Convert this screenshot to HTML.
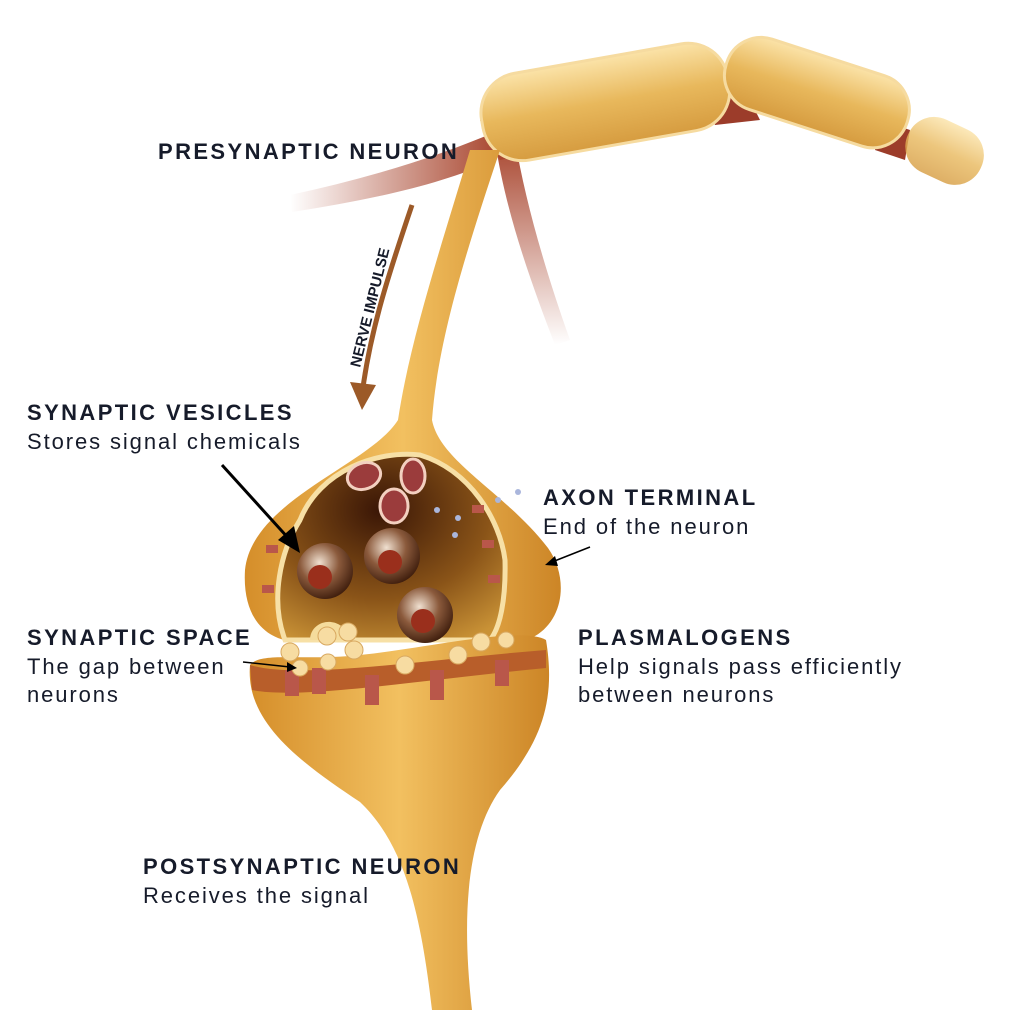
<!DOCTYPE html>
<html><head><meta charset="utf-8"><style>
html,body{margin:0;padding:0;background:#fff}
.w{position:relative;width:1024px;height:1024px;overflow:hidden;font-family:"Liberation Sans",sans-serif;color:#161b2a}
.t{position:absolute;font-weight:bold;font-size:22px;letter-spacing:2.4px;white-space:nowrap}
.s{position:absolute;font-size:22px;letter-spacing:1.9px;white-space:nowrap;line-height:28px}
</style></head><body><div class="w">
<svg width="1024" height="1024" style="position:absolute;left:0;top:0">
<defs>
<linearGradient id="gold" x1="0" y1="0" x2="1" y2="0"><stop offset="0" stop-color="#d58e2a"/><stop offset="0.5" stop-color="#f2c060"/><stop offset="1" stop-color="#cc8526"/></linearGradient>
<radialGradient id="cav" cx="0.45" cy="0.3" r="0.8"><stop offset="0" stop-color="#3a1606"/><stop offset="0.6" stop-color="#8a5418"/><stop offset="1" stop-color="#c99236"/></radialGradient>
<radialGradient id="ves" cx="0.4" cy="0.35" r="0.7"><stop offset="0" stop-color="#f0e0d0"/><stop offset="0.5" stop-color="#8b5a3c"/><stop offset="1" stop-color="#3a1a0a"/></radialGradient>
<linearGradient id="my" x1="0" y1="0" x2="0" y2="1"><stop offset="0" stop-color="#fbe3a8"/><stop offset="0.5" stop-color="#e8b85c"/><stop offset="1" stop-color="#d69c40"/></linearGradient>
<linearGradient id="fadeL" x1="1" y1="0" x2="0" y2="0"><stop offset="0" stop-color="#a8452e"/><stop offset="1" stop-color="#a8452e" stop-opacity="0"/></linearGradient>
<linearGradient id="fadeD" x1="0" y1="0" x2="0" y2="1"><stop offset="0" stop-color="#a8452e"/><stop offset="1" stop-color="#a8452e" stop-opacity="0"/></linearGradient>
</defs>
<path d="M500 130 C430 160 360 180 290 195 L292 212 C370 200 440 185 495 160 Z" fill="url(#fadeL)"/>
<path d="M495 140 C505 210 530 280 555 345 L570 340 C545 270 525 200 515 140 Z" fill="url(#fadeD)"/>
<path d="M480 120 L530 110 L545 150 L500 160 Z" fill="#a8452e"/>
<path d="M700 90 L740 80 L760 120 L715 125 Z" fill="#9c3c2a"/>
<path d="M880 120 L910 130 L905 160 L875 150 Z" fill="#9c3c2a"/>
<g transform="rotate(-10 605 100)"><rect x="480" y="58" width="250" height="88" rx="40" fill="url(#my)" stroke="#f6dba0" stroke-width="3"/></g>
<g transform="rotate(18 815 92)"><rect x="722" y="55" width="190" height="74" rx="36" fill="url(#my)" stroke="#f6dba0" stroke-width="3"/></g>
<g transform="rotate(25 945 150)"><rect x="905" y="122" width="80" height="58" rx="28" fill="url(#my)" opacity="0.8"/></g>
<path d="M470 150 C440 250 410 340 398 420 C370 465 252 500 245 570 C242 620 268 642 300 642 L520 642 C562 632 572 582 548 548 C505 492 440 462 432 420 C438 340 465 255 500 150 Z" fill="url(#gold)"/>
<path d="M300 520 C320 470 378 450 420 455 C470 470 500 520 505 560 C506 600 500 628 490 640 L285 640 C270 600 280 552 300 520 Z" fill="url(#cav)" stroke="#f7e0a6" stroke-width="5"/>
<path d="M310 640 C310 620 340 612 352 640" fill="#f5dc9c"/>
<g stroke="#f3d0c0" stroke-width="3" fill="#9b3c3c">
<ellipse cx="364" cy="476" rx="17" ry="13" transform="rotate(-20 364 476)"/>
<ellipse cx="413" cy="476" rx="12" ry="17"/>
<ellipse cx="394" cy="506" rx="14" ry="17"/>
</g>
<circle cx="325" cy="571" r="28" fill="url(#ves)"/><circle cx="320" cy="577" r="12" fill="#9a2f1c"/>
<circle cx="392" cy="556" r="28" fill="url(#ves)"/><circle cx="390" cy="562" r="12" fill="#9a2f1c"/>
<circle cx="425" cy="615" r="28" fill="url(#ves)"/><circle cx="423" cy="621" r="12" fill="#9a2f1c"/>
<g fill="#aab6dc"><circle cx="518" cy="492" r="3"/><circle cx="498" cy="500" r="3"/><circle cx="437" cy="510" r="3"/><circle cx="458" cy="518" r="3"/><circle cx="455" cy="535" r="3"/></g>
<g fill="#b9574a"><rect x="472" y="505" width="12" height="8"/><rect x="482" y="540" width="12" height="8"/><rect x="488" y="575" width="12" height="8"/><rect x="266" y="545" width="12" height="8"/><rect x="262" y="585" width="12" height="8"/></g>
<path d="M250 665 C245 722 300 762 360 802 C402 842 420 905 432 1010 L472 1010 C460 905 470 832 500 790 C542 742 556 700 546 640 C520 625 420 650 350 656 C300 660 260 652 250 665 Z" fill="url(#gold)"/>
<path d="M250 665 C300 680 420 660 546 650 L546 668 C420 680 300 700 252 690 Z" fill="#b85e2a"/>
<g fill="#b9574a"><rect x="285" y="670" width="14" height="26"/><rect x="312" y="668" width="14" height="26"/><rect x="365" y="675" width="14" height="30"/><rect x="430" y="670" width="14" height="30"/><rect x="495" y="660" width="14" height="26"/></g>
<g fill="#f7dca2" stroke="#d8a860"><circle cx="327" cy="636" r="9"/><circle cx="348" cy="632" r="9"/><circle cx="290" cy="652" r="9"/><circle cx="354" cy="650" r="9"/><circle cx="300" cy="668" r="8"/><circle cx="328" cy="662" r="8"/><circle cx="405" cy="665" r="9"/><circle cx="458" cy="655" r="9"/><circle cx="481" cy="642" r="9"/><circle cx="506" cy="640" r="8"/></g>
<path d="M412 205 C390 270 370 330 362 395" fill="none" stroke="#9c5a28" stroke-width="5"/>
<path d="M350 382 L362 410 L376 385 Z" fill="#9c5a28"/>
<text x="0" y="0" transform="translate(360 368) rotate(-76)" font-family="Liberation Sans" font-weight="bold" font-size="15" fill="#161b2a">NERVE IMPULSE</text>
<line x1="222" y1="465" x2="290" y2="540" stroke="#000" stroke-width="3"/>
<path d="M300 553 L278 540 L294 526 Z" fill="#000"/>
<line x1="590" y1="547" x2="552" y2="562" stroke="#000" stroke-width="1.5"/>
<path d="M545 565 L555 556 L558 566 Z" fill="#000"/>
<line x1="243" y1="662" x2="290" y2="667" stroke="#000" stroke-width="1.5"/>
<path d="M297 668 L287 662 L287 672 Z" fill="#000"/>
</svg>
<div class="t" style="left:158px;top:139px">PRESYNAPTIC NEURON</div>
<div class="t" style="left:27px;top:400px">SYNAPTIC VESICLES</div>
<div class="s" style="left:27px;top:428px">Stores signal chemicals</div>
<div class="t" style="left:543px;top:485px">AXON TERMINAL</div>
<div class="s" style="left:543px;top:513px">End of the neuron</div>
<div class="t" style="left:27px;top:625px">SYNAPTIC SPACE</div>
<div class="s" style="left:27px;top:653px">The gap between<br>neurons</div>
<div class="t" style="left:578px;top:625px">PLASMALOGENS</div>
<div class="s" style="left:578px;top:653px">Help signals pass efficiently<br>between neurons</div>
<div class="t" style="left:143px;top:854px">POSTSYNAPTIC NEURON</div>
<div class="s" style="left:143px;top:882px">Receives the signal</div>
</div></body></html>
